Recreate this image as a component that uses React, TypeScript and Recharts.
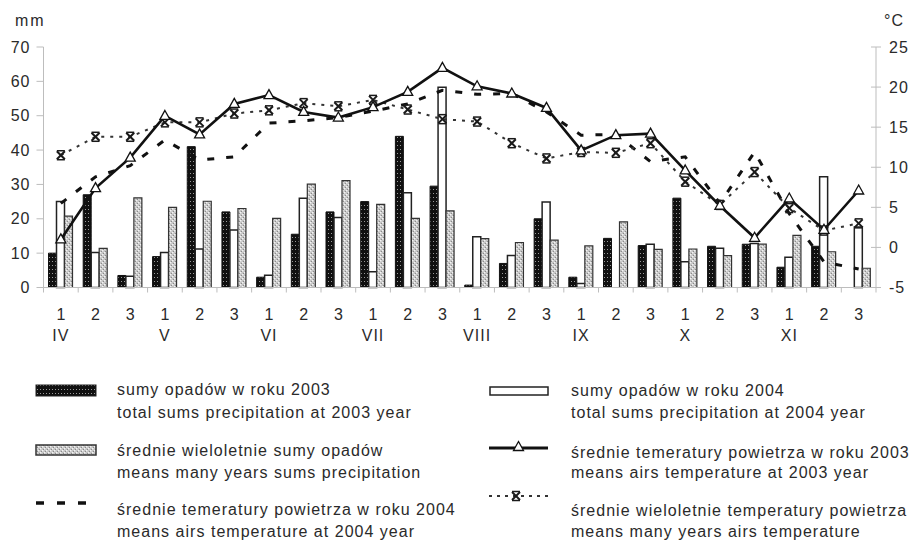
import React from 'react';
import { ComposedChart, Bar, Line, XAxis, YAxis } from 'recharts';

// miesiące i dekady
const months = ['IV', 'V', 'VI', 'VII', 'VIII', 'IX', 'X', 'XI'];
const decades = ['1', '2', '3'];

// opady [mm]
const precip2003 = [10, 27, 3.5, 9, 41, 22, 3, 15.5, 22, 25, 44, 29.5, 0.7, 7, 20, 3, 14.3, 12.2, 26, 12, 12.6, 5.9, 12, 0];
const precip2004 = [25, 10.2, 3.3, 10.2, 11.2, 16.7, 3.6, 26, 20.4, 4.6, 27.6, 58.3, 14.8, 9.3, 24.9, 1.2, 0, 12.6, 7.5, 11.4, 12.8, 8.8, 32.2, 17.6];
const precipMean = [20.8, 11.4, 26.1, 23.3, 25.1, 23, 20.1, 30.1, 31.1, 24.2, 20.1, 22.3, 14.2, 13.1, 13.8, 12.1, 19.1, 11.1, 11.2, 9.3, 12.6, 15.2, 10.4, 5.6];

// temperatury [°C]
const temp2003 = [1.0, 7.4, 11.2, 16.4, 14.1, 17.9, 19.0, 16.9, 16.2, 17.5, 19.4, 22.4, 20.1, 19.2, 17.4, 12.1, 14.0, 14.2, 9.6, 5.2, 1.2, 6.1, 2.2, 7.1];
const temp2004 = [5.5, 8.8, 10.2, 13.4, 10.9, 11.3, 15.5, 15.8, 16.2, 17.0, 17.9, 19.6, 19.1, 19.2, 16.9, 14.0, 14.1, 10.7, 11.3, 5.5, 11.9, 4.2, -1.8, -2.7];
const tempMean = [11.5, 13.8, 13.8, 15.6, 15.6, 16.7, 17.1, 18.0, 17.6, 18.4, 17.2, 16.0, 15.7, 13.0, 11.1, 11.9, 11.8, 13.0, 8.2, 5.3, 9.4, 4.9, 2.1, 3.0];

const mmTicks = [0, 10, 20, 30, 40, 50, 60, 70];
const cTicks = [-5, 0, 5, 10, 15, 20, 25];

const data = months.flatMap((m, mi) =>
  decades.map((d, di) => {
    const i = mi * 3 + di;
    return {
      month: m,
      dek: d,
      p2003: precip2003[i],
      p2004: precip2004[i],
      pMean: precipMean[i],
      t2003: temp2003[i],
      t2004: temp2004[i],
      tMean: tempMean[i],
    };
  })
);

const FONT = '"Liberation Sans", Arial, Helvetica, sans-serif';
const TXT = '#2a2a2a';
const AXIS = '#bdbdbd';

const LEFT_W = 43.5;
const RIGHT_W = 36;
const HALF = (912 - LEFT_W - RIGHT_W) / data.length / 2;

const LeftTick = (props: any) => {
  const { x, y, payload } = props;
  return (
    <g>
      <line x1={x - 7} x2={x} y1={y} y2={y} stroke={AXIS} />
      <text x={x - 13} y={y} textAnchor="end" dominantBaseline="central" fontSize={16} letterSpacing={1} fill={TXT} fontFamily={FONT}>
        {payload.value}
      </text>
    </g>
  );
};

const RightTick = (props: any) => {
  const { x, y, payload } = props;
  return (
    <g>
      <line x1={x - 5} x2={x + 5} y1={y} y2={y} stroke={AXIS} />
      <text x={x + 13} y={y} textAnchor="start" dominantBaseline="central" fontSize={16} letterSpacing={1} fill={TXT} fontFamily={FONT}>
        {payload.value}
      </text>
    </g>
  );
};

const DecadeTick = (props: any) => {
  const { x, y, payload, index } = props;
  const row = data[index];
  return (
    <g>
      <line x1={x - HALF} x2={x - HALF} y1={y} y2={y + 5} stroke={AXIS} />
      {index === data.length - 1 && <line x1={x + HALF} x2={x + HALF} y1={y} y2={y + 5} stroke={AXIS} />}
      <text x={x} y={y + 27} textAnchor="middle" dominantBaseline="central" fontSize={16} fill={TXT} fontFamily={FONT}>
        {payload.value}
      </text>
      {row && row.dek === '1' && (
        <text x={x} y={y + 48} textAnchor="middle" dominantBaseline="central" fontSize={16} letterSpacing={1} fill={TXT} fontFamily={FONT}>
          {row.month}
        </text>
      )}
    </g>
  );
};

const Triangle = ({ cx, cy }: any) => (
  <path d={`M${cx},${cy - 5.5} L${cx + 5},${cy + 3.5} L${cx - 5},${cy + 3.5} Z`} fill="#fff" stroke="#111" strokeWidth={1.3} />
);

const Asterisk = ({ cx, cy }: any) => (
  <g stroke="#1a1a1a" strokeWidth={2}>
    <line x1={cx - 4} y1={cy - 4} x2={cx + 4} y2={cy + 4} />
    <line x1={cx - 4} y1={cy + 4} x2={cx + 4} y2={cy - 4} />
    <line x1={cx - 4} y1={cy - 4.5} x2={cx + 4} y2={cy - 4.5} strokeWidth={1.5} />
    <line x1={cx - 4} y1={cy + 4.5} x2={cx + 4} y2={cy + 4.5} strokeWidth={1.5} />
  </g>
);

const Patterns = () => (
  <svg width={0} height={0} style={{ position: 'absolute' }}>
    <defs>
      <pattern id="pBlack" width={3} height={4} patternUnits="userSpaceOnUse">
        <rect width={3} height={4} fill="#101010" />
        <rect x={1} y={1} width={1} height={1} fill="#9a9a9a" />
      </pattern>
      <pattern id="pGray" width={4} height={4} patternUnits="userSpaceOnUse">
        <rect width={4} height={4} fill="#c4c4c4" />
        <rect x={0} y={0} width={1.4} height={1.4} fill="#f4f4f4" />
        <rect x={2} y={2} width={1.4} height={1.4} fill="#f4f4f4" />
        <rect x={1} y={3} width={1} height={1} fill="#8a8a8a" />
        <rect x={3} y={1} width={1} height={1} fill="#8a8a8a" />
      </pattern>
    </defs>
  </svg>
);

const LegendBlock = () => {
  const t = { fontSize: 16, letterSpacing: 1.02, fill: TXT, fontFamily: FONT, dominantBaseline: 'central' as const };
  return (
    <svg width={912} height={541} style={{ position: 'absolute', left: 0, top: 0, pointerEvents: 'none' }}>
      <rect x={36} y={385} width={60} height={11} fill="url(#pBlack)" stroke="#222" />
      <text x={117} y={389} {...t}>sumy opadów w roku 2003</text>
      <text x={117} y={412} {...t}>total sums precipitation at 2003 year</text>

      <rect x={36} y={445} width={60} height={10} fill="url(#pGray)" stroke="#333" strokeWidth={1.5} />
      <text x={117} y={450} {...t}>średnie wieloletnie sumy opadów</text>
      <text x={117} y={472} {...t}>means many years sums precipitation</text>

      <line x1={36} x2={90} y1={503} y2={503} stroke="#111" strokeWidth={3.5} strokeDasharray="8 13" />
      <text x={117} y={509} {...t}>średnie temeratury powietrza w roku 2004</text>
      <text x={117} y={531} {...t}>means airs temperature at 2004 year</text>

      <rect x={490} y={387} width={58} height={8} fill="#fff" stroke="#222" strokeWidth={1.5} />
      <text x={571} y={390} {...t}>sumy opadów w roku 2004</text>
      <text x={571} y={412} {...t}>total sums precipitation at 2004 year</text>

      <line x1={489} x2={548} y1={448} y2={448} stroke="#111" strokeWidth={3} />
      <Triangle cx={518.5} cy={447} />
      <text x={571} y={452} {...t}>średnie temeratury powietrza w roku 2003</text>
      <text x={571} y={472} {...t}>means airs temperature at 2003 year</text>

      <line x1={489} x2={548} y1={496} y2={496} stroke="#333" strokeWidth={2} strokeDasharray="3 5" />
      <Asterisk cx={516} cy={496} />
      <text x={571} y={510} {...t}>średnie wieloletnie temperatury powietrza</text>
      <text x={571} y={531} {...t}>means many years airs temperature</text>
    </svg>
  );
};

export default function App() {
  return (
    <div style={{ position: 'absolute', left: 0, top: 0, width: 912, height: 541, background: '#fff', fontFamily: FONT }}>
      <Patterns />
      <ComposedChart width={912} height={345} data={data} margin={{ top: 47, right: 0, bottom: 2.5, left: 0 }} barGap={0} barSize={8}>
        <XAxis
          dataKey="dek"
          interval={0}
          height={55}
          tickSize={0}
          tickMargin={0}
          tickLine={false}
          axisLine={{ stroke: AXIS }}
          tick={<DecadeTick />}
        />
        <YAxis
          yAxisId="left"
          width={LEFT_W}
          domain={[0, 70]}
          ticks={mmTicks}
          interval={0}
          tickSize={0}
          tickMargin={0}
          tickLine={false}
          axisLine={{ stroke: AXIS }}
          tick={<LeftTick />}
        />
        <YAxis
          yAxisId="right"
          orientation="right"
          width={RIGHT_W}
          domain={[-5, 25]}
          ticks={cTicks}
          interval={0}
          tickSize={0}
          tickMargin={0}
          tickLine={false}
          axisLine={{ stroke: AXIS }}
          tick={<RightTick />}
        />
        <Bar yAxisId="left" dataKey="p2003" fill="url(#pBlack)" stroke="#111" strokeWidth={1} isAnimationActive={false} />
        <Bar yAxisId="left" dataKey="p2004" fill="#fff" stroke="#222" strokeWidth={1.5} isAnimationActive={false} />
        <Bar yAxisId="left" dataKey="pMean" fill="url(#pGray)" stroke="#333" strokeWidth={1.2} isAnimationActive={false} />
        <Line
          yAxisId="right"
          type="linear"
          dataKey="t2004"
          stroke="#111"
          strokeWidth={3}
          strokeDasharray="7 12"
          dot={false}
          activeDot={false}
          isAnimationActive={false}
        />
        <Line
          yAxisId="right"
          type="linear"
          dataKey="tMean"
          stroke="#333"
          strokeWidth={2}
          strokeDasharray="3 6"
          dot={<Asterisk />}
          activeDot={false}
          isAnimationActive={false}
        />
        <Line
          yAxisId="right"
          type="linear"
          dataKey="t2003"
          stroke="#111"
          strokeWidth={2.6}
          dot={<Triangle />}
          activeDot={false}
          isAnimationActive={false}
        />
      </ComposedChart>
      <div style={{ position: 'absolute', left: 15, top: 12, fontSize: 16, letterSpacing: 2, color: TXT }}>mm</div>
      <div style={{ position: 'absolute', left: 884, top: 12, fontSize: 16, letterSpacing: 1, color: TXT }}>°C</div>
      <LegendBlock />
    </div>
  );
}
